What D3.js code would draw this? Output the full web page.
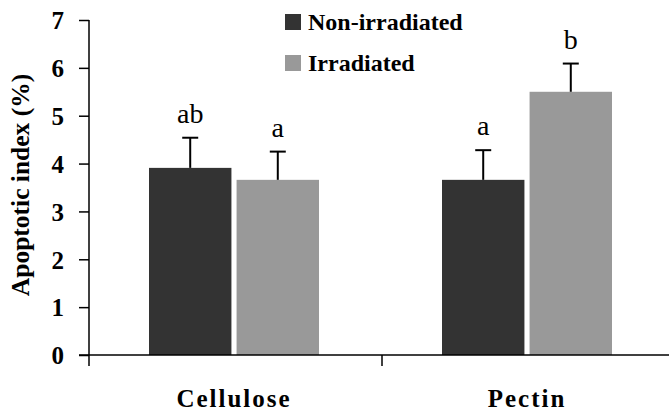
<!DOCTYPE html>
<html>
<head>
<meta charset="utf-8">
<script src="https://cdn.jsdelivr.net/npm/d3@7"></script>
<style>
  body { margin: 0; background: #fff; }
</style>
</head>
<body>
<div id="chart"></div>
<script>
const categories = ["Cellulose", "Pectin"]
const series = ["Non-irradiated", "Irradiated"]
const colors = ["#333333", "#999999"]
// [Non-irradiated, Irradiated] per category
const means = [[3.91, 3.66], [3.66, 5.50]]
const errors = [[0.63, 0.59], [0.62, 0.59]]
const letters = [["ab", "a"], ["a", "b"]]
const yTicks = [0, 1, 2, 3, 4, 5, 6, 7]

const FONT = "'Liberation Serif', serif"
const W = 669, H = 413
const svg = d3.select("#chart").append("svg")
  .attr("width", W).attr("height", H)

const axisX = 89, axisY = 355
const y = d3.scaleLinear().domain([0, 7]).range([axisY, 20])
const x = d3.scaleBand().domain(categories).range([axisX, axisX + 586])
const inner = d3.scaleBand().domain(series).range([60, 230]).paddingInner(10 / 170)

// y axis
const yAxis = d3.axisLeft(y).tickValues(yTicks).tickFormat(d3.format("d"))
  .tickSize(10).tickPadding(15)
const gy = svg.append("g").attr("transform", `translate(${axisX},0)`).call(yAxis)
gy.select(".domain").attr("stroke", "#000").attr("stroke-width", 1.5)
  .attr("d", `M0,${y(7)}H0V${axisY + 11}`)
gy.selectAll(".tick line").attr("stroke", "#000").attr("stroke-width", 1.5)
gy.selectAll(".tick text").attr("fill", "#000")
  .attr("font-family", FONT)
  .attr("font-size", 25).attr("font-weight", "bold")
  .attr("dy", "0.35em")

// bars
const groups = svg.selectAll("g.cat").data(categories).enter().append("g")
  .attr("class", "cat")
  .attr("transform", d => `translate(${x(d)},0)`)

groups.each(function (cat, ci) {
  const g = d3.select(this)
  const rows = series.map((s, si) => ({ s, si, v: means[ci][si], e: errors[ci][si], l: letters[ci][si] }))
  g.selectAll("rect").data(rows).enter().append("rect")
    .attr("x", d => inner(d.s))
    .attr("width", inner.bandwidth())
    .attr("y", d => y(d.v))
    .attr("height", d => axisY - y(d.v))
    .attr("fill", d => colors[d.si])
  const cx = d => inner(d.s) + inner.bandwidth() / 2
  g.selectAll("line.err").data(rows).enter().append("line")
    .attr("x1", cx).attr("x2", cx)
    .attr("y1", d => y(d.v)).attr("y2", d => y(d.v + d.e))
    .attr("stroke", "#000").attr("stroke-width", 2)
  g.selectAll("line.cap").data(rows).enter().append("line")
    .attr("x1", d => cx(d) - 8).attr("x2", d => cx(d) + 8)
    .attr("y1", d => y(d.v + d.e)).attr("y2", d => y(d.v + d.e))
    .attr("stroke", "#000").attr("stroke-width", 2)
  g.selectAll("text.sig").data(rows).enter().append("text")
    .attr("x", cx).attr("y", d => y(d.v + d.e) - 15)
    .attr("text-anchor", "middle")
    .attr("font-family", FONT)
    .attr("font-size", 28)
    .text(d => d.l)
})

// x axis
svg.append("line")
  .attr("x1", 79).attr("x2", W).attr("y1", axisY).attr("y2", axisY)
  .attr("stroke", "#000").attr("stroke-width", 1.5)
svg.selectAll("line.xtick").data(categories.slice(1)).enter().append("line")
  .attr("x1", d => x(d)).attr("x2", d => x(d))
  .attr("y1", axisY).attr("y2", axisY + 11)
  .attr("stroke", "#000").attr("stroke-width", 1.5)
svg.selectAll("text.xlab").data(categories).enter().append("text")
  .attr("x", d => x(d) + 60 + 85)
  .attr("y", 407)
  .attr("text-anchor", "middle")
  .attr("font-family", FONT)
  .attr("font-size", 25).attr("font-weight", "bold")
  .attr("letter-spacing", 2)
  .text(d => d)

// y title
svg.append("text")
  .attr("transform", "translate(29,185) rotate(-90)")
  .attr("text-anchor", "middle")
  .attr("font-family", FONT)
  .attr("font-size", 25.5).attr("font-weight", "bold")
  .text("Apoptotic index (%)")

// legend
const legend = svg.selectAll("g.leg").data(series).enter().append("g")
  .attr("transform", (d, i) => `translate(285,${14 + i * 41})`)
legend.append("rect").attr("width", 16).attr("height", 16)
  .attr("fill", (d, i) => colors[i])
legend.append("text").attr("x", 23).attr("y", 16)
  .attr("font-family", FONT)
  .attr("font-size", 24).attr("font-weight", "bold")
  .text(d => d)
</script>
</body>
</html>
